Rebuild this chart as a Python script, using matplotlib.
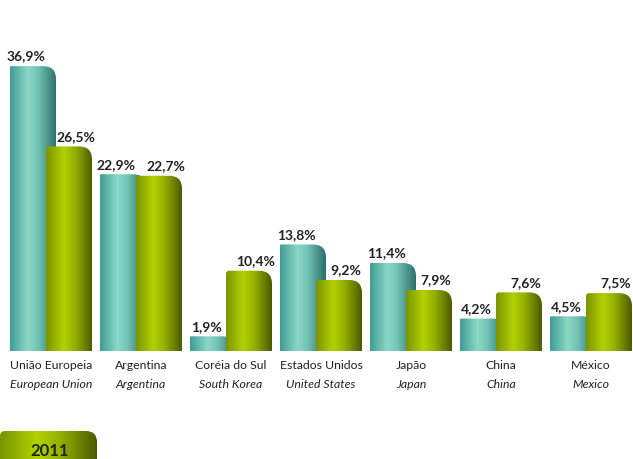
import numpy as np
import matplotlib
matplotlib.use("Agg")
import matplotlib.pyplot as plt
from matplotlib.path import Path
from matplotlib.patches import PathPatch
from matplotlib.colors import LinearSegmentedColormap

plt.rcParams['font.family'] = ['Lato', 'DejaVu Sans']

# data
cats_pt = ["União Europeia", "Argentina", "Coréia do Sul", "Estados Unidos", "Japão", "China", "México"]
cats_en = ["European Union", "Argentina", "South Korea", "United States", "Japan", "China", "Mexico"]
v2010 = [36.9, 22.9, 1.9, 13.8, 11.4, 4.2, 4.5]
v2011 = [26.5, 22.7, 10.4, 9.2, 7.9, 7.6, 7.5]
legend_label = "2011"

teal = LinearSegmentedColormap.from_list("teal", [(0, '#3f9c93'), (0.38, '#8cd8c8'), (0.6, '#72c3b4'), (1, '#2b6e6b')])
olive = LinearSegmentedColormap.from_list("olive", [(0, '#7a9500'), (0.38, '#b3d100'), (0.62, '#95b000'), (1, '#4b5a00')])

fig = plt.figure(figsize=(6.33, 4.60), dpi=100)
ax = fig.add_axes([0, 0, 1, 1])
ax.set_xlim(-10 / 90, 623 / 90)
ax.set_ylim(-108 / 7.72, 352 / 7.72)
ax.axis('off')

# px -> data units
PX = 1 / 90
PY = 1 / 7.72


def bar_path(x0, w, y0, h, rr, rl):
    # rounded top-right (rr) and top-left (rl) corners, radii in px
    rx, ry = rr * PX, min(rr * PY, h * 0.9)
    lx, ly = rl * PX, min(rl * PY, h * 0.5)
    top = y0 + h
    verts = [(x0, y0), (x0 + w, y0), (x0 + w, top - ry), (x0 + w, top), (x0 + w - rx, top),
             (x0 + lx, top), (x0, top), (x0, top - ly), (x0, y0)]
    codes = [Path.MOVETO, Path.LINETO, Path.LINETO, Path.CURVE3, Path.CURVE3,
             Path.LINETO, Path.CURVE3, Path.CURVE3, Path.CLOSEPOLY]
    return Path(verts, codes)


def grad_bar(x0, w, y0, h, cmap, z, rr=13, rl=3):
    patch = PathPatch(bar_path(x0, w, y0, h, rr, rl), facecolor='none', edgecolor='none', zorder=z)
    ax.add_patch(patch)
    grad = np.linspace(0, 1, 256).reshape(1, -1)
    im = ax.imshow(grad, cmap=cmap, extent=[x0, x0 + w, y0, y0 + h], aspect='auto', zorder=z)
    im.set_clip_path(patch)


w = 46 * PX
for i in range(len(cats_pt)):
    grad_bar(i, w, 0, v2010[i], teal, 2, rl=1)
    grad_bar(i + 36 * PX, w, 0, v2011[i], olive, 3)
    ax.text(i + w / 2 - 7 * PX, v2010[i] + 0.6, f"{v2010[i]:.1f}%".replace('.', ','),
            ha='center', va='bottom', fontsize=10, fontweight='bold', color='#222222', zorder=5)
    ax.text(i + 36 * PX + w / 2 + 7 * PX, v2011[i] + 0.6, f"{v2011[i]:.1f}%".replace('.', ','),
            ha='center', va='bottom', fontsize=10, fontweight='bold', color='#222222', zorder=5)
    cx = i + 41 * PX
    ax.text(cx, -14 * PY, cats_pt[i], ha='center', va='center', fontsize=8.8, color='#222222')
    ax.text(cx, -33 * PY, cats_en[i], ha='center', va='center', fontsize=8.8, style='italic', color='#222222')

# legend box (partly cut at the bottom)
lx0 = -10 * PX
grad_bar(lx0, 97 * PX, -125 * PY, 45 * PY, olive, 3, rr=11, rl=5)
ax.text(lx0 + 50 * PX, -99 * PY, legend_label, ha='center', va='center', fontsize=12,
        fontweight='bold', color='#1e2400', zorder=6)

fig.savefig("out.png", dpi=100)
